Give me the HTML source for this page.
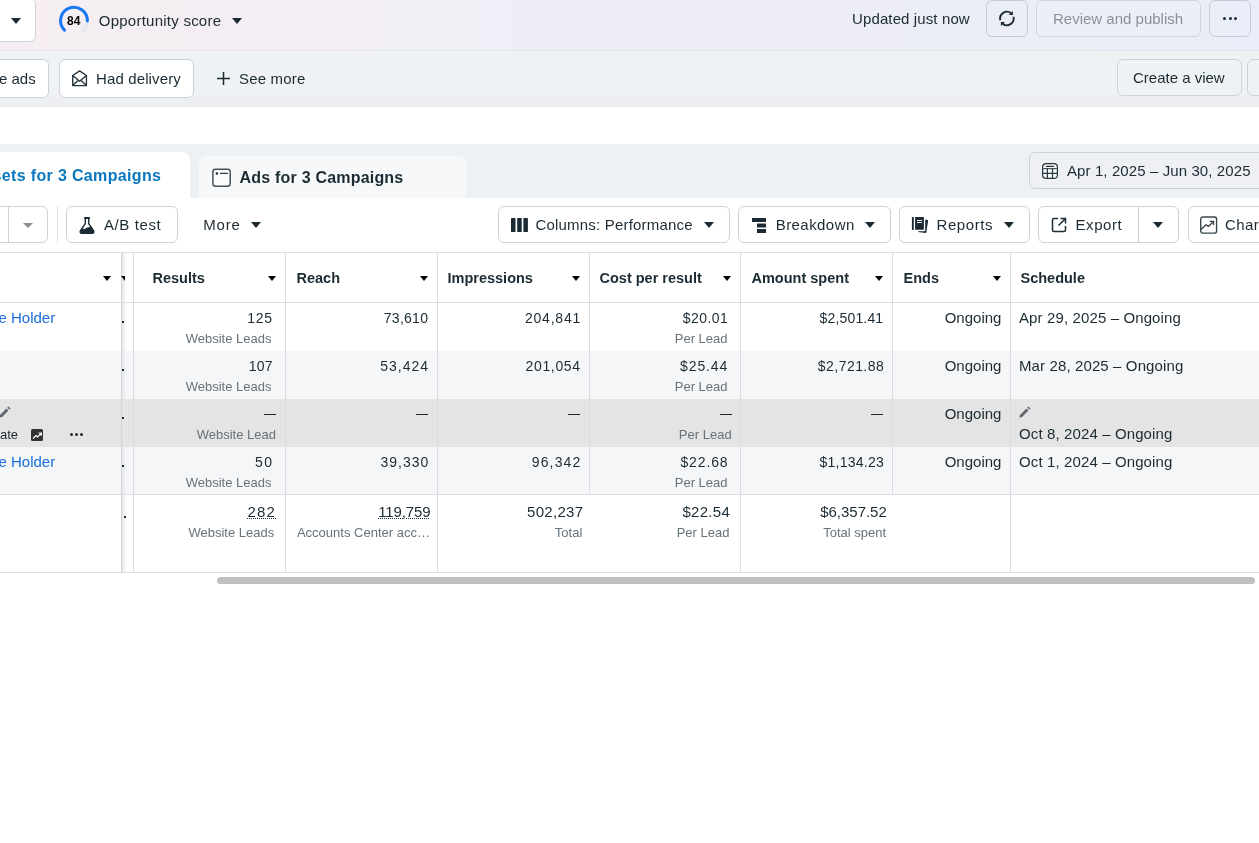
<!DOCTYPE html>
<html><head><meta charset="utf-8">
<style>
*{box-sizing:border-box;margin:0;padding:0}
html,body{width:1259px;height:843px;overflow:hidden;background:#fff;}
body{will-change:transform;font-family:"Liberation Sans",sans-serif;color:#1c2b33}
.a{position:absolute}
.t{position:absolute;white-space:nowrap;line-height:1}
.btn{position:absolute;border:1px solid #cbd2d9;border-radius:6px;background:#fff}
.car{position:absolute;width:0;height:0;border-left:5px solid transparent;border-right:5px solid transparent;border-top:6px solid #1c2b33}
#top{left:0;top:0;width:1259px;height:51px;background:linear-gradient(90deg,#f6eef2 0%,#f3eef4 25%,#eeedf6 45%,#ecedf6 70%,#e9edf7 100%);border-bottom:1px solid #e3e6ec}
#bar2{left:0;top:51px;width:1259px;height:56px;background:linear-gradient(180deg,#eff2f5 0%,#eff2f5 70%,#ecedf2 100%)}
#tabbg{left:0;top:144px;width:1259px;height:54px;background:#eef1f4}
.num{position:absolute;white-space:nowrap;line-height:1;font-size:14px;color:#1c2b33;text-align:right}
.sub{position:absolute;margin-top:0.8px;white-space:nowrap;line-height:1;font-size:13px;color:#67727b;text-align:right}
.hd{position:absolute;margin-top:-1.5px;margin-left:-0.5px;white-space:nowrap;line-height:1;font-size:14.5px;font-weight:bold;color:#1c2b33}
.ul{text-decoration:underline dotted;text-underline-offset:1px;text-decoration-thickness:1px}
.vl{position:absolute;top:253px;width:1px;height:320px;background:#dadde1}
</style></head><body>

<!-- top bar -->
<div id="top" class="a"></div>
<div class="btn" style="left:-10px;top:-2px;width:46px;height:44px;border-radius:6px"></div>
<div class="car" style="left:11px;top:18px"></div>
<svg class="a" style="left:58px;top:4px" width="32" height="32" viewBox="0 0 32 32">
 <path d="M29.4 17.0 A13.4 13.4 0 0 1 25.5 26.1" fill="none" stroke="#e2e7ef" stroke-width="3" stroke-linecap="round"/>
 <path d="M6.5 26.1 A13.4 13.4 0 1 1 29.4 17.0" fill="none" stroke="#1877f2" stroke-width="3" stroke-linecap="round"/>
</svg>
<div class="t" style="left:67px;top:14.5px;font-size:12px;font-weight:bold;color:#000">84</div>
<div class="t" style="left:98.8px;top:12.8px;font-size:15px;letter-spacing:0.24px">Opportunity score</div>
<div class="car" style="left:232px;top:18px"></div>

<div class="t" style="left:852px;top:11.2px;font-size:15px;letter-spacing:0.12px">Updated just now</div>
<div class="btn" style="left:986px;top:0;width:42px;height:37px;background:transparent;border-color:#c6ccd6"></div>
<svg class="a" style="left:997px;top:9px" width="20" height="20" viewBox="0 0 20 20">
 <g fill="none" stroke="#1c2b33" stroke-width="1.9"><path d="M3.33 11.26 A6.8 6.8 0 0 1 14.2 4.3"/><path d="M16.47 7.74 A6.8 6.8 0 0 1 5.6 14.7"/></g>
 <path d="M15.9 2.1 V6.0 H11.8 Z" fill="#1c2b33"/><path d="M3.9 16.9 V13.0 H8.0 Z" fill="#1c2b33"/>
</svg>
<div class="btn" style="left:1036px;top:0;width:165px;height:37px;background:#ebeff8;border-color:#cfd5de"></div>
<div class="t" style="left:1053px;top:11px;font-size:15px;color:#8a9099">Review and publish</div>
<div class="btn" style="left:1209px;top:0;width:42px;height:37px;background:transparent;border-color:#c6ccd6"></div>
<div class="a" style="left:1223px;top:17px;width:3px;height:3px;border-radius:50%;background:#1c2b33"></div>
<div class="a" style="left:1228.5px;top:17px;width:3px;height:3px;border-radius:50%;background:#1c2b33"></div>
<div class="a" style="left:1234px;top:17px;width:3px;height:3px;border-radius:50%;background:#1c2b33"></div>

<!-- second bar -->
<div id="bar2" class="a"></div>
<div class="btn" style="left:-20px;top:59px;width:69px;height:39px"></div>
<div class="t" style="left:-1px;top:71px;font-size:15px">e ads</div>
<div class="btn" style="left:58.5px;top:59px;width:135.5px;height:39px"></div>
<svg class="a" style="left:71px;top:69px" width="18" height="18" viewBox="0 0 18 18" fill="none" stroke="#26353e" stroke-width="1.4" stroke-linejoin="round"><path d="M1.7 6.5 L8.6 1.9 L15.4 6.5 V16.6 H1.7 Z"/><path d="M1.7 6.5 L8.6 12.2 L15.4 6.5"/><path d="M1.7 16.6 L7 11.4"/><path d="M15.4 16.6 L10.2 11.4"/></svg>
<div class="t" style="left:96px;top:71px;font-size:15px;letter-spacing:0.13px">Had delivery</div>
<svg class="a" style="left:217px;top:72px" width="13" height="13" viewBox="0 0 13 13" stroke="#1c2b33" stroke-width="1.5"><path d="M6.5 0 V13 M0 6.5 H13"/></svg>
<div class="t" style="left:239px;top:71px;font-size:15px;letter-spacing:0.19px">See more</div>
<div class="btn" style="left:1117px;top:59px;width:125px;height:37px;background:#eff2f5"></div>
<div class="t" style="left:1133px;top:70px;font-size:15px">Create a view</div>
<div class="btn" style="left:1247px;top:59px;width:40px;height:37px;background:#eff2f5"></div>

<!-- tabs -->
<div id="tabbg" class="a"></div>
<div class="a" style="left:-10px;top:152px;width:200px;height:50px;background:#fff;border-radius:8px 8px 0 0"></div>
<div class="t" style="left:-7.5px;top:168px;font-size:16px;font-weight:bold;color:#0a78be;letter-spacing:0.35px">sets for 3 Campaigns</div>
<div class="a" style="left:199px;top:156px;width:267px;height:42px;background:#f7f8fa;border-radius:8px 8px 0 0"></div>
<svg class="a" style="left:212px;top:168px" width="19" height="19" viewBox="0 0 19 19"><rect x="0.9" y="1.3" width="17.3" height="17" rx="2.5" fill="#fbfbfc" stroke="#43525b" stroke-width="1.5"/><circle cx="4.9" cy="5.4" r="1.25" fill="#1c2b33"/><path d="M8.6 5.4 H15.5" stroke="#2c3a43" stroke-width="1.3" stroke-linecap="round"/></svg>
<div class="t" style="left:239.6px;top:170px;font-size:16px;font-weight:bold;letter-spacing:0.2px">Ads for 3 Campaigns</div>
<div class="btn" style="left:1029px;top:152px;width:250px;height:37px;background:#eef0f4"></div>
<svg class="a" style="left:1042px;top:163px" width="16" height="16" viewBox="0 0 16 16" fill="none" stroke="#26353e" stroke-width="1.2" stroke-linecap="round"><rect x="0.6" y="0.6" width="14.8" height="14.8" rx="3.5" fill="#fafbfc"/><path d="M4.4 3.4 H11.6"/><path d="M0.6 5.6 H15.4" stroke-linecap="butt" stroke="#4b5962" stroke-width="1.3"/><path d="M0.6 10.4 H15.4 M5.4 5.6 V15.4 M10.5 5.6 V15.4" stroke-linecap="butt"/></svg>
<div class="t" style="left:1067px;top:163px;font-size:15px;letter-spacing:0.1px">Apr 1, 2025 – Jun 30, 2025</div>

<!-- toolbar -->
<div class="btn" style="left:-30px;top:206px;width:78px;height:37px"></div>
<div class="a" style="left:8px;top:207px;width:1px;height:35px;background:#cbd2d9"></div>
<div class="car" style="left:23px;top:223px;border-top-color:#8a8d91;border-left-width:5px;border-right-width:5px;border-top-width:5px"></div>
<div class="a" style="left:57px;top:206px;width:1px;height:37px;background:#dadde1"></div>
<div class="btn" style="left:66px;top:206px;width:112px;height:37px"></div>
<svg class="a" style="left:79px;top:216px" width="16" height="18" viewBox="0 0 16 18"><rect x="5" y="1.1" width="6" height="1.8" rx="0.4" fill="#1c2b33"/><path d="M6.3 2.8 V7.6 L1.3 15 Q0.6 17.3 2.8 17.3 H13.2 Q15.4 17.3 14.7 15 L9.7 7.6 V2.8" fill="none" stroke="#1c2b33" stroke-width="1.4" stroke-linejoin="round"/><path d="M2.9 12.2 C4.5 13.2 6.4 13.2 8.1 11.6 C9.3 10.9 11 10.9 12.4 11.1 L14.7 15 Q15.4 17.3 13.2 17.3 H2.8 Q0.6 17.3 1.3 15 Z" fill="#1c2b33"/></svg>
<div class="t" style="left:104px;top:217.3px;font-size:15px;letter-spacing:0.6px">A/B test</div>
<div class="t" style="left:203.3px;top:217.3px;font-size:15px;letter-spacing:0.77px">More</div>
<div class="car" style="left:251px;top:222px"></div>

<div class="btn" style="left:498px;top:206px;width:232px;height:37px"></div>
<svg class="a" style="left:511px;top:218px" width="17" height="14" viewBox="0 0 17 14" fill="#1c2b33"><rect x="0" y="0" width="4.5" height="14" rx="0.5"/><rect x="6.2" y="0" width="4.5" height="14" rx="0.5"/><rect x="12.4" y="0" width="4.5" height="14" rx="0.5"/></svg>
<div class="t" style="left:535.5px;top:217.3px;font-size:15px;letter-spacing:0.19px">Columns: Performance</div>
<div class="car" style="left:704px;top:222px"></div>

<div class="btn" style="left:738px;top:206px;width:153px;height:37px"></div>
<svg class="a" style="left:752px;top:218px" width="15" height="15" viewBox="0 0 15 15" fill="#1c2b33"><rect x="0" y="0" width="14" height="4"/><rect x="5" y="5.5" width="9" height="4"/><rect x="5" y="11" width="9" height="4"/></svg>
<div class="t" style="left:775.7px;top:217.3px;font-size:15px;letter-spacing:0.44px">Breakdown</div>
<div class="car" style="left:865px;top:222px"></div>

<div class="btn" style="left:899px;top:206px;width:131px;height:37px"></div>
<svg class="a" style="left:911px;top:216px" width="18" height="18" viewBox="0 0 18 18"><rect x="0.9" y="0.9" width="1.9" height="13" rx="0.4" fill="#1c2b33"/><rect x="4.1" y="0.9" width="8.8" height="12.9" rx="0.4" fill="#1c2b33"/><rect x="6.1" y="4" width="4.8" height="1" fill="#fff"/><rect x="6.1" y="6" width="4.8" height="1" fill="#fff"/><path d="M14.2 3.5 L16.5 3.9 Q17.3 4.1 17.1 4.9 L15.3 16.4 Q15.1 17.2 14.3 17.1 L7.2 16 L7.3 15.3 L13 15.3 Q14.2 15.3 14.2 14.1 Z" fill="#1c2b33"/></svg>
<div class="t" style="left:936.5px;top:217.3px;font-size:15px;letter-spacing:0.6px">Reports</div>
<div class="car" style="left:1004px;top:222px"></div>

<div class="btn" style="left:1038px;top:206px;width:141px;height:37px"></div>
<div class="a" style="left:1138px;top:207px;width:1px;height:35px;background:#cbd2d9"></div>
<svg class="a" style="left:1051px;top:217px" width="16" height="16" viewBox="0 0 16 16" fill="none" stroke="#1c2b33" stroke-width="1.5"><path d="M7 1.5 H3 Q1.5 1.5 1.5 3 V13 Q1.5 14.5 3 14.5 H13 Q14.5 14.5 14.5 13 V9"/><path d="M9.5 1.5 H14.5 V6.5 M14.5 1.5 L7.5 8.5"/></svg>
<div class="t" style="left:1075.5px;top:217.3px;font-size:15px;letter-spacing:0.58px">Export</div>
<div class="car" style="left:1153px;top:222px"></div>

<div class="btn" style="left:1188px;top:206px;width:100px;height:37px"></div>
<svg class="a" style="left:1200px;top:216px" width="18" height="18" viewBox="0 0 18 18" fill="none" stroke="#3a4850" stroke-width="1.4" stroke-linejoin="round" stroke-linecap="round"><rect x="0.7" y="1" width="15.9" height="16.1" rx="2.2"/><path d="M0.9 13.5 L6 8.8 L8.3 10.4 L13.5 5.4"/><path d="M10.3 5.4 H13.5 V8.6"/></svg>
<div class="t" style="left:1225px;top:217.3px;font-size:15px;letter-spacing:0.4px">Chart</div>

<!-- table -->
<div class="a" style="left:0;top:252px;width:1259px;height:1px;background:#dadde1"></div>
<div class="a" style="left:0;top:302px;width:1259px;height:1px;background:#dadde1"></div>
<div class="a" style="left:0;top:351px;width:1259px;height:48px;background:#f5f6f7"></div>
<div class="a" style="left:0;top:399px;width:1259px;height:47.5px;background:#e4e4e4"></div>
<div class="a" style="left:0;top:446.5px;width:1259px;height:47.5px;background:#f5f6f7"></div>
<div class="a" style="left:0;top:494px;width:1259px;height:1px;background:#dadde1"></div>
<div class="a" style="left:0;top:572px;width:1259px;height:1px;background:#dadde1"></div>

<div class="vl" style="left:133px"></div>
<div class="vl" style="left:285px"></div>
<div class="vl" style="left:437px"></div>
<div class="vl" style="left:589px;height:242px"></div>
<div class="vl" style="left:740px"></div>
<div class="vl" style="left:892px;height:242px"></div>
<div class="vl" style="left:1010px"></div>
<!-- frozen shadow -->
<div class="a" style="left:121px;top:253px;width:1px;height:320px;background:#d3d5d9"></div><div class="a" style="left:122px;top:253px;width:4px;height:320px;background:linear-gradient(90deg,rgba(225,227,230,0.9),rgba(240,241,243,0.2))"></div>

<!-- header -->
<div class="car" style="left:103px;top:276px;border-top-color:#000;border-left-width:4px;border-right-width:4px;border-top-width:5px"></div>
<div class="car" style="left:121px;top:276px;border-top-color:#000;border-left-width:4px;border-right-width:0px;border-top-width:5px"></div>
<div class="hd" style="left:153px;top:272px">Results</div>
<div class="car" style="left:268px;top:276px;border-top-color:#000;border-left-width:4px;border-right-width:4px;border-top-width:5px"></div>
<div class="hd" style="left:297px;top:272px">Reach</div>
<div class="car" style="left:420px;top:276px;border-top-color:#000;border-left-width:4px;border-right-width:4px;border-top-width:5px"></div>
<div class="hd" style="left:448px;top:272px">Impressions</div>
<div class="car" style="left:572px;top:276px;border-top-color:#000;border-left-width:4px;border-right-width:4px;border-top-width:5px"></div>
<div class="hd" style="left:600px;top:272px">Cost per result</div>
<div class="car" style="left:723px;top:276px;border-top-color:#000;border-left-width:4px;border-right-width:4px;border-top-width:5px"></div>
<div class="hd" style="left:752px;top:272px">Amount spent</div>
<div class="car" style="left:875px;top:276px;border-top-color:#000;border-left-width:4px;border-right-width:4px;border-top-width:5px"></div>
<div class="hd" style="left:904px;top:272px">Ends</div>
<div class="car" style="left:993px;top:276px;border-top-color:#000;border-left-width:4px;border-right-width:4px;border-top-width:5px"></div>
<div class="hd" style="left:1021px;top:272px">Schedule</div>

<!-- rows -->
<div class="t" style="left:-1.5px;top:310px;font-size:15px;color:#1a6ed6">e Holder</div>
<div class="t" style="left:-1.5px;top:454px;font-size:15px;color:#1a6ed6">e Holder</div>
<div class="sub" style="right:987.5px;top:331px">Website Leads</div>
<div class="sub" style="right:531.5px;top:331px">Per Lead</div>
<div class="num" style="right:257.6px;top:310.1px;font-size:15px">Ongoing</div>
<div class="a" style="left:122px;top:321px;width:1.5px;height:1.5px;background:#1c2b33"></div>
<div class="t" style="left:1019px;top:310.1px;font-size:15px;letter-spacing:0.12px">Apr 29, 2025 – Ongoing</div>
<div class="sub" style="right:987.5px;top:379px">Website Leads</div>
<div class="sub" style="right:531.5px;top:379px">Per Lead</div>
<div class="num" style="right:257.6px;top:358.1px;font-size:15px">Ongoing</div>
<div class="a" style="left:122px;top:369px;width:1.5px;height:1.5px;background:#1c2b33"></div>
<div class="t" style="left:1019px;top:358.1px;font-size:15px;letter-spacing:0.12px">Mar 28, 2025 – Ongoing</div>
<div class="a" style="left:264px;top:413.5px;width:12px;height:1.6px;background:#1c2b33"></div>
<div class="sub" style="right:983px;top:427px">Website Lead</div>
<div class="a" style="left:416px;top:413.5px;width:12px;height:1.6px;background:#1c2b33"></div>
<div class="a" style="left:567.5px;top:413.5px;width:12px;height:1.6px;background:#1c2b33"></div>
<div class="a" style="left:719.5px;top:413.5px;width:12px;height:1.6px;background:#1c2b33"></div>
<div class="sub" style="right:527.4px;top:427px">Per Lead</div>
<div class="a" style="left:871px;top:413.5px;width:12px;height:1.6px;background:#1c2b33"></div>
<div class="num" style="right:257.6px;top:406.1px;font-size:15px">Ongoing</div>
<div class="a" style="left:122px;top:417px;width:1.5px;height:1.5px;background:#1c2b33"></div>
<div class="sub" style="right:987.5px;top:475px">Website Leads</div>
<div class="sub" style="right:531.5px;top:475px">Per Lead</div>
<div class="num" style="right:257.6px;top:454.1px;font-size:15px">Ongoing</div>
<div class="a" style="left:122px;top:465px;width:1.5px;height:1.5px;background:#1c2b33"></div>
<div class="t" style="left:1019px;top:454.1px;font-size:15px;letter-spacing:0.12px">Oct 1, 2024 – Ongoing</div>
<div class="sub" style="right:984.8px;top:525.7px">Website Leads</div>
<div class="sub" style="right:829.1px;top:525.7px">Accounts Center acc…</div>
<div class="sub" style="right:676.7px;top:525.7px">Total</div>
<div class="sub" style="right:529.6px;top:525.7px">Per Lead</div>
<div class="sub" style="right:372.9px;top:525.7px">Total spent</div>
<div class="a" style="left:124px;top:516px;width:1.5px;height:1.5px;background:#1c2b33"></div>

<div class="num" style="left:247.20px;top:311px;font-size:14px;letter-spacing:0.78px;text-align:left">125</div>
<div class="num" style="left:383.75px;top:311px;font-size:14px;letter-spacing:0.28px;text-align:left">73,610</div>
<div class="num" style="left:524.95px;top:311px;font-size:14px;letter-spacing:0.79px;text-align:left">204,841</div>
<div class="num" style="left:682.75px;top:311px;font-size:14px;letter-spacing:0.44px;text-align:left">$20.01</div>
<div class="num" style="left:819.55px;top:311px;font-size:14px;letter-spacing:0.16px;text-align:left">$2,501.41</div>
<div class="num" style="left:248.70px;top:359px;font-size:14px;letter-spacing:0.28px;text-align:left">107</div>
<div class="num" style="left:380.25px;top:359px;font-size:14px;letter-spacing:0.99px;text-align:left">53,424</div>
<div class="num" style="left:525.55px;top:359px;font-size:14px;letter-spacing:0.65px;text-align:left">201,054</div>
<div class="num" style="left:680.05px;top:359px;font-size:14px;letter-spacing:0.89px;text-align:left">$25.44</div>
<div class="num" style="left:817.85px;top:359px;font-size:14px;letter-spacing:0.45px;text-align:left">$2,721.88</div>
<div class="num" style="left:255.12px;top:455px;font-size:14px;letter-spacing:1.30px;text-align:left">50</div>
<div class="num" style="left:380.50px;top:455px;font-size:14px;letter-spacing:0.99px;text-align:left">39,330</div>
<div class="num" style="left:531.75px;top:455px;font-size:14px;letter-spacing:1.14px;text-align:left">96,342</div>
<div class="num" style="left:680.45px;top:455px;font-size:14px;letter-spacing:0.86px;text-align:left">$22.68</div>
<div class="num" style="left:819.45px;top:455px;font-size:14px;letter-spacing:0.25px;text-align:left">$1,134.23</div>
<div class="num ul" style="left:247.45px;top:504.3px;font-size:15px;letter-spacing:1.25px;text-align:left">282</div>
<div class="num ul" style="left:378.20px;top:504.3px;font-size:15px;letter-spacing:-0.13px;text-align:left">119,759</div>
<div class="num" style="left:527.05px;top:504.3px;font-size:15px;letter-spacing:0.29px;text-align:left">502,237</div>
<div class="num" style="left:682.45px;top:504.3px;font-size:15px;letter-spacing:0.29px;text-align:left">$22.54</div>
<div class="num" style="left:820.25px;top:504.3px;font-size:15px;letter-spacing:-0.03px;text-align:left">$6,357.52</div>
<!-- row3 extras -->
<svg class="a" style="left:-1px;top:406px" width="13" height="13" viewBox="0 0 13 13"><path d="M0.3 11.7 L1 8.9 L7.4 2.5 L9.5 4.6 L3.1 11 Z" fill="#606770"/><path d="M8.3 1.6 L9.4 0.5 L11.5 2.6 L10.4 3.7 Z" fill="#606770"/></svg>
<div class="t" style="left:0;top:428px;font-size:13px">ate</div>
<div class="a" style="left:31px;top:429px;width:12px;height:12px;background:#333;border-radius:1.5px"></div>
<svg class="a" style="left:31px;top:429px" width="12" height="12" viewBox="0 0 12 12" fill="none" stroke="#fff" stroke-width="1.2"><path d="M2 9.5 L5 6.5 L6.5 8 L10 4.5 M7.5 4 H10.3 V6.8"/></svg>
<div class="a" style="left:70px;top:433px;width:3px;height:3px;border-radius:50%;background:#1c2b33"></div>
<div class="a" style="left:75px;top:433px;width:3px;height:3px;border-radius:50%;background:#1c2b33"></div>
<div class="a" style="left:80px;top:433px;width:3px;height:3px;border-radius:50%;background:#1c2b33"></div>
<svg class="a" style="left:1019px;top:406px" width="13" height="13" viewBox="0 0 13 13"><path d="M0.3 11.7 L1 8.9 L7.4 2.5 L9.5 4.6 L3.1 11 Z" fill="#606770"/><path d="M8.3 1.6 L9.4 0.5 L11.5 2.6 L10.4 3.7 Z" fill="#606770"/></svg>
<div class="t" style="left:1019px;top:426.3px;font-size:15px;letter-spacing:0.12px">Oct 8, 2024 – Ongoing</div>
<!-- scrollbar -->
<div class="a" style="left:217px;top:577px;width:1038px;height:7px;border-radius:4px;background:#c1c1c1"></div>
</body></html>
